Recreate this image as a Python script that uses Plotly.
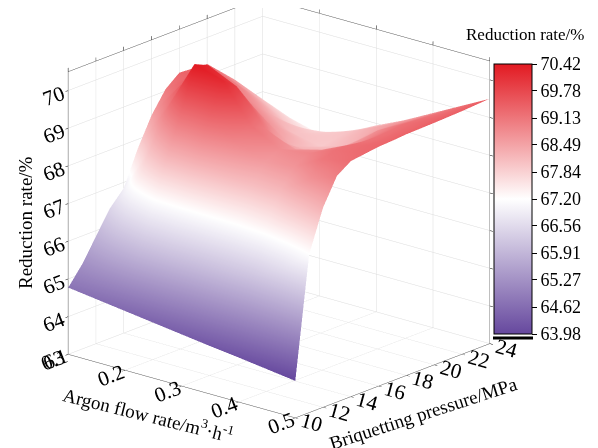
import plotly.graph_objects as go

# Argon flow rate (m3/h) and briquetting pressure (MPa) grid
argon = [0.1, 0.15, 0.2, 0.25, 0.3, 0.35, 0.4, 0.45, 0.5]
pressure = [10, 11, 12, 13, 14, 15, 16, 17, 18, 20, 22, 24]

# reduction rate (%), one row per pressure, columns follow argon
rate = [
    [64.77, 64.67, 64.57, 64.47, 64.37, 64.27, 64.18, 64.08, 63.98],
    [65.25, 65.60, 65.90, 66.00, 66.00, 66.10, 66.20, 66.60, 67.20],
    [65.85, 66.50, 67.00, 67.10, 67.15, 67.20, 67.40, 67.80, 68.30],
    [66.45, 67.40, 68.20, 68.30, 68.20, 68.10, 68.20, 68.70, 69.00],
    [66.85, 68.20, 69.20, 69.30, 68.90, 68.60, 68.70, 69.10, 69.25],
    [67.75, 69.00, 70.42, 70.20, 69.20, 68.80, 68.90, 69.20, 69.30],
    [68.50, 69.50, 70.25, 69.90, 69.00, 68.65, 68.85, 69.20, 69.35],
    [69.05, 69.60, 69.80, 69.30, 68.55, 68.35, 68.70, 69.15, 69.37],
    [69.35, 69.50, 69.20, 68.75, 68.25, 68.25, 68.65, 69.15, 69.40],
    [69.30, 69.00, 68.50, 68.10, 67.95, 68.20, 68.80, 69.20, 69.42],
    [68.60, 68.20, 67.80, 67.85, 68.05, 68.40, 68.75, 69.15, 69.45],
    [67.80, 67.50, 67.30, 67.50, 67.95, 68.30, 68.70, 69.10, 69.50],
]

cbar_ticks = [63.98, 64.62, 65.27, 65.91, 66.56, 67.20, 67.84, 68.49, 69.13, 69.78, 70.42]

font = "Liberation Serif"

fig = go.Figure()
fig.add_trace(go.Surface(
    x=argon, y=pressure, z=rate,
    cmin=63.98, cmax=70.42,
    colorscale=[[0, "rgb(102,72,158)"], [0.5, "rgb(255,255,255)"], [1, "rgb(226,26,34)"]],
    lighting=dict(ambient=1, diffuse=0, specular=0, fresnel=0, roughness=1),
    hoverinfo="skip",
    colorbar=dict(
        x=486 / 598, xanchor="left", xpad=0, ypad=0,
        y=1 - 191 / 448, yanchor="middle",
        len=270 / 448, thickness=38,
        outlinecolor="black", outlinewidth=1,
        ticks="outside", ticklen=5, tickcolor="black",
        tickvals=cbar_ticks, ticktext=["%.2f" % v for v in cbar_ticks],
        tickfont=dict(family=font, size=18, color="black"),
    ),
))

axis_common = dict(
    showbackground=False, showgrid=True, gridcolor="#dcdcdc", gridwidth=1,
    showline=True, mirror="all", linecolor="#555", linewidth=1,
    ticks="outside", ticklen=4, tickcolor="black",
    tickfont=dict(family=font, size=16, color="black"),
    title=dict(text=""), zeroline=False, showspikes=False,
)

fig.update_layout(
    width=598, height=448,
    margin=dict(l=0, r=0, t=0, b=0),
    paper_bgcolor="white",
    font=dict(family=font, color="black"),
    scene=dict(
        domain=dict(x=[0.0, 0.907], y=[0.0, 1.0]),
        aspectmode="manual",
        aspectratio=dict(x=1.335, y=1.335, z=1.335),
        xaxis=dict(range=[0.1, 0.5], tickvals=[0.1, 0.2, 0.3, 0.4, 0.5], **axis_common),
        yaxis=dict(range=[10, 24], tickvals=[10, 12, 14, 16, 18, 20, 22, 24], **axis_common),
        zaxis=dict(range=[63, 70.5], tickvals=[63, 64, 65, 66, 67, 68, 69, 70], **axis_common),
        camera=dict(
            eye=dict(x=1.25, y=-1.46, z=0.55),
            center=dict(x=0, y=0, z=-0.115),
            projection=dict(type="orthographic"),
        ),
    ),
    shapes=[
        dict(type="line", xref="paper", yref="paper",
             x0=485 / 598, x1=525 / 598, y0=1 - 330 / 448, y1=1 - 330 / 448,
             line=dict(color="black", width=3)),
    ],
    annotations=[
        dict(text="Reduction rate/%", x=517 / 598, y=1 - 27 / 448, xref="paper", yref="paper",
             xanchor="center", yanchor="middle", showarrow=False,
             font=dict(family=font, size=17)),
        dict(text="Reduction rate/%", x=17 / 598, y=1 - 215 / 448, xref="paper", yref="paper",
             xanchor="center", yanchor="middle", showarrow=False, textangle=-90,
             font=dict(family=font, size=19)),
        dict(text="Argon flow rate/m<sup>3</sup>·h<sup>-1</sup>", x=140 / 598, y=1 - 406 / 448,
             xref="paper", yref="paper", xanchor="center", yanchor="middle",
             showarrow=False, textangle=14, font=dict(family=font, size=19)),
        dict(text="Briquetting pressure/MPa", x=415 / 598, y=1 - 405 / 448,
             xref="paper", yref="paper", xanchor="center", yanchor="middle",
             showarrow=False, textangle=-18, font=dict(family=font, size=19)),
    ],
)

fig.write_html("out.html")
